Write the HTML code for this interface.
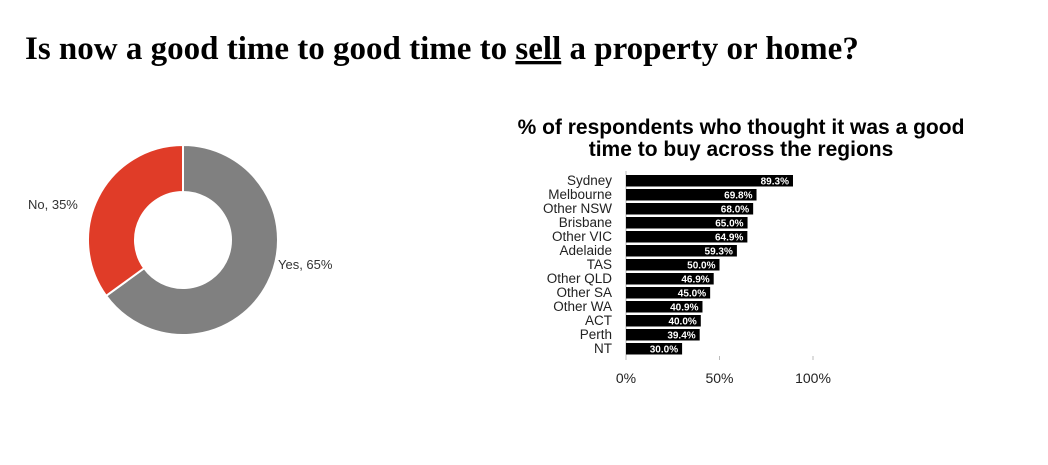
<!DOCTYPE html>
<html><head><meta charset="utf-8"><style>
body{margin:0;background:#fff;width:1048px;height:460px;overflow:hidden}
</style></head><body>
<svg width="1048" height="460" xmlns="http://www.w3.org/2000/svg">
<text x="25" y="59" font-family="Liberation Serif, serif" font-weight="bold" font-size="33" fill="#000">Is now a good time to good time to <tspan text-decoration="underline">sell</tspan> a property or home?</text>
<g id="donut"></g>
<g id="bars">
<text x="741" y="134" text-anchor="middle" font-family="Liberation Sans, sans-serif" font-weight="bold" font-size="21">% of respondents who thought it was a good</text>
<text x="741" y="156" text-anchor="middle" font-family="Liberation Sans, sans-serif" font-weight="bold" font-size="21">time to buy across the regions</text>
</g>
</svg>
<script>
const NS='http://www.w3.org/2000/svg';
const pieLabels=['Yes','No'];
const pieValues=[65,35];
const regions=['Sydney','Melbourne','Other NSW','Brisbane','Other VIC','Adelaide','TAS','Other QLD','Other SA','Other WA','ACT','Perth','NT'];
const regionValues=[89.3,69.8,68.0,65.0,64.9,59.3,50.0,46.9,45.0,40.9,40.0,39.4,30.0];
const xTicks=[0,50,100];

function mk(tag,attrs,parent){const e=document.createElementNS(NS,tag);for(const k in attrs)e.setAttribute(k,attrs[k]);parent.appendChild(e);return e;}

// donut
const dg=document.getElementById('donut');
const pcx=183,pcy=240,R=95,r=48;
const colors=['#808080','#e03c28'];
const total=pieValues.reduce((a,b)=>a+b,0);
let ang=0;
pieValues.forEach((v,i)=>{
  const a0=ang,a1=ang+v/total*2*Math.PI;
  const p=(a,rad)=>[pcx+rad*Math.sin(a),pcy-rad*Math.cos(a)];
  const [x0,y0]=p(a0,R),[x1,y1]=p(a1,R),[x2,y2]=p(a1,r),[x3,y3]=p(a0,r);
  const large=(a1-a0)>Math.PI?1:0;
  const path=mk('path',{d:`M${x0},${y0}A${R},${R} 0 ${large} 1 ${x1},${y1}L${x2},${y2}A${r},${r} 0 ${large} 0 ${x3},${y3}Z`,fill:colors[i],stroke:'#fff','stroke-width':2},dg);
  
  
  ang=a1;
});
const l1=mk('text',{x:278,y:269,'font-family':'Liberation Sans, sans-serif','font-size':13,fill:'#333'},dg);
l1.textContent=pieLabels[0]+', '+pieValues[0]+'%';


const l2=mk('text',{x:28,y:209,'font-family':'Liberation Sans, sans-serif','font-size':13,fill:'#333'},dg);
l2.textContent=pieLabels[1]+', '+pieValues[1]+'%';



// bars
const bg=document.getElementById('bars');
const bx0=626,bx100=813,topY=175,pitch=14,bh=11.5;
const xs=v=>bx0+(bx100-bx0)*v/100;
const ys=i=>topY+i*pitch;
mk('line',{x1:bx0,y1:171,x2:bx0,y2:359,stroke:'#bbb'},bg);
xTicks.forEach(t=>{
  const tl=mk('line',{x1:xs(t),y1:356,x2:xs(t),y2:360,stroke:'#bbb'},bg);
  
  
  const tx=mk('text',{x:xs(t),y:383,'text-anchor':'middle','font-family':'Liberation Sans, sans-serif','font-size':14,fill:'#222'},bg);
  tx.textContent=t+'%';
  
  
});
regions.forEach((name,i)=>{
  const v=regionValues[i];
  const rect=mk('rect',{x:bx0,y:ys(i),width:xs(v)-bx0,height:bh,fill:'#000'},bg);
  
  
  const lab=mk('text',{x:612,y:ys(i)+10,'text-anchor':'end','font-family':'Liberation Sans, sans-serif','font-size':13.5,fill:'#222'},bg);
  lab.textContent=name;
  
  
  const vl=mk('text',{x:xs(v)-4,y:ys(i)+9.5,'text-anchor':'end','font-family':'Liberation Sans, sans-serif','font-weight':'bold','font-size':10,fill:'#fff'},bg);
  vl.textContent=v.toFixed(1)+'%';
  
  
});
</script>
</body></html>
